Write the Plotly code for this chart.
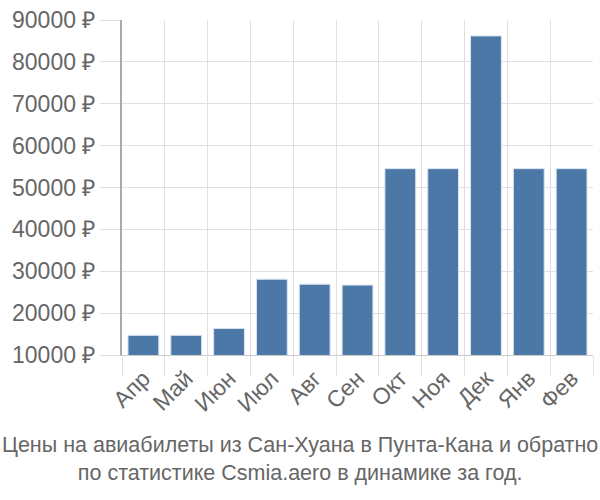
import plotly.graph_objects as go

months = ["Апр", "Май", "Июн", "Июл", "Авг", "Сен", "Окт", "Ноя", "Дек", "Янв", "Фев"]
prices = [14700, 14700, 16350, 28100, 26900, 26700, 54500, 54500, 86200, 54500, 54500]
y_ticks = [10000, 20000, 30000, 40000, 50000, 60000, 70000, 80000, 90000]
y_tick_labels = [f"{v} ₽" for v in y_ticks]
title_text = "Цены на авиабилеты из Сан-Хуана в Пунта-Кана и обратно<br>по статистике Csmia.aero в динамике за год."

fig = go.Figure(go.Bar(
    x=months, y=prices,
    marker=dict(color="#4C78A8", line=dict(color="#dbe4ee", width=1)),
))

fig.update_layout(
    width=600, height=500,
    margin=dict(l=122, r=7, t=15, b=145),
    paper_bgcolor="white", plot_bgcolor="white",
    bargap=0.28,
    showlegend=False,
    font=dict(family="Liberation Sans, Arial, sans-serif", color="#666666"),
    annotations=[dict(
        text=title_text, xref="paper", yref="paper", x=(300 - 122) / 471,
        y=-0.31, xanchor="center", yanchor="middle", showarrow=False,
        font=dict(size=21.5, family="Liberation Sans, Arial", color="#666666"),
        align="center",
    )],
)
fig.update_xaxes(
    tickson="boundaries", showgrid=True, gridcolor="#e0e0e0", gridwidth=1,
    ticks="outside", ticklen=20, tickcolor="#e0e0e0",
    tickangle=-45, tickfont=dict(size=23, color="#666666"),
    showline=True, linecolor="#cccccc", linewidth=1,
)
fig.update_yaxes(
    range=[10000, 90000], tickvals=y_ticks, ticktext=y_tick_labels,
    showgrid=True, gridcolor="#e0e0e0", gridwidth=1,
    ticks="outside", ticklen=20, tickcolor="#e0e0e0",
    tickfont=dict(size=23, color="#666666"),
    showline=True, linecolor="#aaaaaa", linewidth=2, zeroline=False,
)

fig.write_html("out.html")
